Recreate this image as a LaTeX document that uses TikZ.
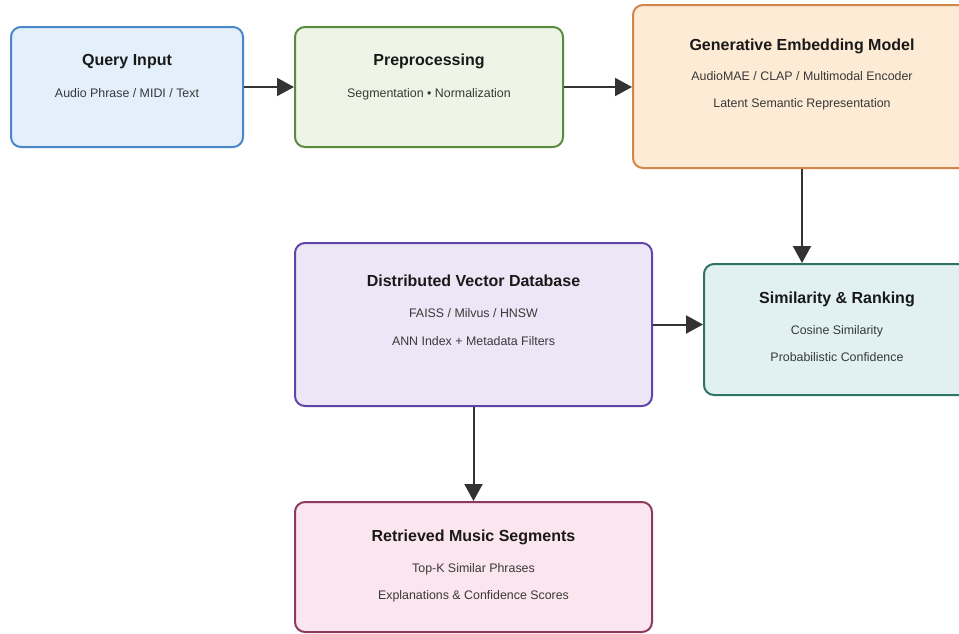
\documentclass[tikz,border=0pt]{standalone}
\usepackage{fontspec}
\setmainfont{Liberation Sans}
\usetikzlibrary{arrows.meta,calc}
\definecolor{qfill}{HTML}{E3F0FC}\definecolor{qdraw}{HTML}{4A86C8}
\definecolor{pfill}{HTML}{EEF5E6}\definecolor{pdraw}{HTML}{5A8A3C}
\definecolor{gfill}{HTML}{FDEBD5}\definecolor{gdraw}{HTML}{D4854A}
\definecolor{dfill}{HTML}{EDE6F6}\definecolor{ddraw}{HTML}{6045A8}
\definecolor{sfill}{HTML}{E1F1F1}\definecolor{sdraw}{HTML}{2F7266}
\definecolor{rfill}{HTML}{FBE5EE}\definecolor{rdraw}{HTML}{8E3A60}
\definecolor{arr}{HTML}{333333}
\tikzset{
  boxbase/.style={rectangle,rounded corners=10pt,line width=2pt,inner sep=0pt},
  ttl/.style={font=\fontsize{16}{18}\selectfont\bfseries,text=black!90,anchor=base,inner sep=0pt},
  sub/.style={font=\fontsize{12.4}{14}\selectfont,text=black!78,anchor=base,inner sep=0pt},
  flow/.style={draw=arr,line width=2pt,-{Triangle[length=17pt,width=18pt]}}
}
\begin{document}
\begin{tikzpicture}[x=1pt,y=-1pt]
\useasboundingbox (0,0) rectangle (959,633);
\clip (0,0) rectangle (959,633);
\fill[white] (0,0) rectangle (959,633);
% boxes
\node[boxbase,draw=qdraw,fill=qfill,minimum width=232pt,minimum height=120pt] (q) at (127,87) {};
\node[boxbase,draw=pdraw,fill=pfill,minimum width=268pt,minimum height=120pt] (p) at (429,87) {};
\node[boxbase,draw=gdraw,fill=gfill,minimum width=338pt,minimum height=163pt] (g) at (802,86.5) {};
\node[boxbase,draw=ddraw,fill=dfill,minimum width=357pt,minimum height=163pt] (d) at (473.5,324.5) {};
\node[boxbase,draw=sdraw,fill=sfill,minimum width=266pt,minimum height=131pt] (s) at (837,329.5) {};
\node[boxbase,draw=rdraw,fill=rfill,minimum width=357pt,minimum height=130pt] (r) at (473.5,567) {};
% texts
\node[ttl] (qt) at (127,65) {Query Input};
\node[sub] (qs) at (127,97) {Audio Phrase / MIDI / Text};
\node[ttl] (pt) at (429,65) {Preprocessing};
\node[sub] (ps) at (429,97) {Segmentation • Normalization};
\node[ttl] (gt) at (802,50) {Generative Embedding Model};
\node[sub] (gs1) at (802,80) {AudioMAE / CLAP / Multimodal Encoder};
\node[sub] (gs2) at (802,107) {Latent Semantic Representation};
\node[ttl] (dt) at (473.5,286) {Distributed Vector Database};
\node[sub] (ds1) at (473.5,317) {FAISS / Milvus / HNSW};
\node[sub] (ds2) at (473.5,345) {ANN Index + Metadata Filters};
\node[ttl] (st) at (837,303) {Similarity \& Ranking};
\node[sub] (ss1) at (837,334) {Cosine Similarity};
\node[sub] (ss2) at (837,361) {Probabilistic Confidence};
\node[ttl] (rt) at (473.5,541) {Retrieved Music Segments};
\node[sub] (rs1) at (473.5,572) {Top-K Similar Phrases};
\node[sub] (rs2) at (473.5,599) {Explanations \& Confidence Scores};
% connectors
\draw[flow] (q.east) -- (p.west);
\draw[flow] (p.east) -- (p.east -| g.west);
\draw[flow] (g.south) -- (g.south |- s.north);
\draw[flow] (d.east) -- (d.east -| s.west);
\draw[flow] (d.south) -- (r.north);
\end{tikzpicture}
\end{document}
